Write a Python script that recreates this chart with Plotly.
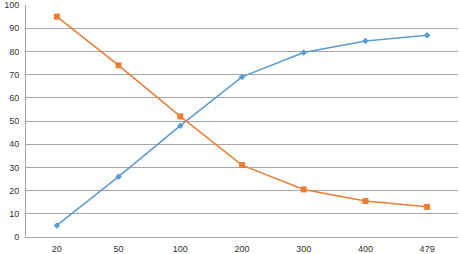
import plotly.graph_objects as go

categories = ["20", "50", "100", "200", "300", "400", "479"]
series_blue = [5, 26, 48, 69, 79.5, 84.5, 87]
series_orange = [95, 74, 52, 31, 20.5, 15.5, 13]
y_ticks = [0, 10, 20, 30, 40, 50, 60, 70, 80, 90, 100]

fig = go.Figure()
fig.add_trace(go.Scatter(
    x=categories, y=series_blue, mode="lines+markers",
    line=dict(color="#5B9BD5", width=1.5),
    marker=dict(symbol="diamond", size=5, color="#5B9BD5"),
    showlegend=False,
))
fig.add_trace(go.Scatter(
    x=categories, y=series_orange, mode="lines+markers",
    line=dict(color="#ED7D31", width=1.5),
    marker=dict(symbol="square", size=6, color="#ED7D31"),
    showlegend=False,
))

fig.update_layout(
    width=459, height=254,
    margin=dict(l=26, r=1, t=5, b=17),
    paper_bgcolor="white", plot_bgcolor="white",
    font=dict(family="Liberation Sans", size=9, color="#333333"),
)
fig.update_xaxes(
    type="category", range=[-0.5, len(categories) - 0.5],
    showgrid=False, showline=True, linecolor="#a6a6a6",
    linewidth=1, ticks="", tickfont=dict(size=9), ticklabelstandoff=3,
    automargin=False,
)
fig.update_yaxes(
    range=[0, 100], tickvals=y_ticks, showgrid=True, gridcolor="#a6a6a6",
    gridwidth=1, showline=True, linecolor="#a6a6a6", linewidth=1,
    zeroline=False, ticks="", tickfont=dict(size=9), ticklabelstandoff=4,
    ticklabeloverflow="allow", automargin=False,
)

fig.write_html("out.html")
